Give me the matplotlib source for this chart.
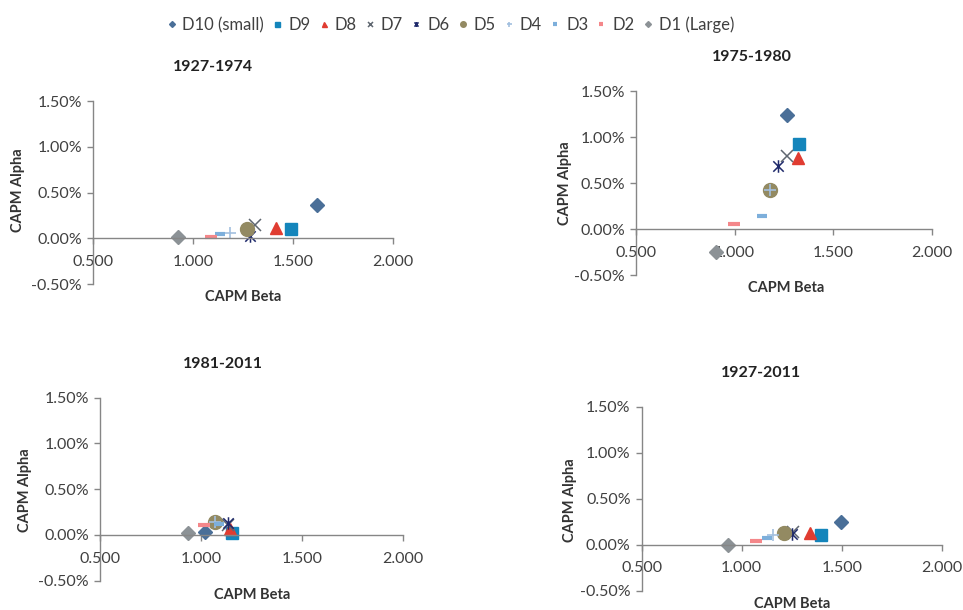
import matplotlib
matplotlib.use("Agg")
import matplotlib.pyplot as plt
from matplotlib.path import Path
from matplotlib.ticker import FuncFormatter

plt.rcParams['font.family'] = ['Lato', 'DejaVu Sans']

# deciles and periods
deciles = ['D10 (small)', 'D9', 'D8', 'D7', 'D6', 'D5', 'D4', 'D3', 'D2', 'D1 (Large)']
periods = ['1927-1974', '1975-1980', '1981-2011', '1927-2011']

# CAPM beta / alpha (alpha in %) per decile
beta_27_74 = [1.62, 1.49, 1.415, 1.31, 1.285, 1.27, 1.185, 1.135, 1.09, 0.927]
alpha_27_74 = [0.36, 0.10, 0.11, 0.14, 0.03, 0.10, 0.06, 0.05, 0.015, 0.01]

beta_75_80 = [1.265, 1.327, 1.324, 1.265, 1.22, 1.18, 1.18, 1.141, 0.999, 0.906]
alpha_75_80 = [1.24, 0.92, 0.77, 0.80, 0.69, 0.43, 0.43, 0.145, 0.06, -0.25]

beta_81_11 = [1.02, 1.155, 1.145, 1.135, 1.135, 1.07, 1.07, 1.09, 1.015, 0.935]
alpha_81_11 = [0.03, 0.02, 0.07, 0.11, 0.13, 0.14, 0.14, 0.12, 0.11, 0.02]

beta_27_11 = [1.497, 1.397, 1.34, 1.258, 1.25, 1.213, 1.158, 1.125, 1.07, 0.929]
alpha_27_11 = [0.25, 0.11, 0.13, 0.135, 0.12, 0.127, 0.11, 0.076, 0.044, 0.0]

betas = [beta_27_74, beta_75_80, beta_81_11, beta_27_11]
alphas = [alpha_27_74, alpha_75_80, alpha_81_11, alpha_27_11]

# excel-like star: an x with a vertical bar through it
star = Path([(-1, -1), (1, 1), (-1, 1), (1, -1), (0, -1.2), (0, 1.2)],
            [Path.MOVETO, Path.LINETO, Path.MOVETO, Path.LINETO, Path.MOVETO, Path.LINETO])

markers = ['D', 's', '^', 'x', star, 'o', '+', '_', '_', 'D']
colors = ['#4A6F98', '#1485BB', '#E03C31', '#5F6770', '#1F2A6B',
          '#938A62', '#A3C0DF', '#7DAFDB', '#F4878A', '#8C9296']
sizes = [7.5, 9, 9, 9, 9, 10, 9, 7, 8, 7.5]
edgew = [1, 1, 1, 1.1, 1.1, 1, 1.2, 3, 3, 1]

# axes rectangles [left, bottom, width, height] and title/label spots (pixels)
rects = [[0.0966, 0.5344, 0.3115, 0.300],
         [0.6604, 0.5487, 0.3070, 0.302],
         [0.1038, 0.0480, 0.3150, 0.300],
         [0.6664, 0.0316, 0.3115, 0.3016]]
title_xy = [(213, 67), (752, 57), (223, 364), (761, 373)]
xlab_xy = [(243, 297), (786, 288), (252, 595), (792, 604)]
ylab_xy = [(18, 190), (565, 183), (25, 490), (570, 500)]

W, H = 963, 610
fig = plt.figure(figsize=(9.63, 6.10), dpi=100)

axis_col = '#868686'
text_col = '#404040'

for k in range(4):
    ax = fig.add_axes(rects[k])
    for i in range(10):
        ax.plot(betas[k][i], alphas[k][i], linestyle='none', marker=markers[i],
                color=colors[i], markersize=sizes[i], markeredgewidth=edgew[i],
                label=deciles[i], clip_on=False)
    ax.set_xlim(0.5, 2.0)
    ax.set_ylim(-0.5, 1.5)
    ax.set_xticks([0.5, 1.0, 1.5, 2.0])
    ax.set_yticks([-0.5, 0.0, 0.5, 1.0, 1.5])
    ax.xaxis.set_major_formatter(FuncFormatter(lambda v, p: '%.3f' % v))
    ax.yaxis.set_major_formatter(FuncFormatter(lambda v, p: '%.2f%%' % v))
    ax.spines['top'].set_visible(False)
    ax.spines['right'].set_visible(False)
    ax.spines['bottom'].set_position(('data', 0))
    for s in ['left', 'bottom']:
        ax.spines[s].set_color(axis_col)
        ax.spines[s].set_linewidth(1.0)
    ax.tick_params(axis='x', direction='out', length=4, width=1, color=axis_col,
                   labelcolor=text_col, labelsize=11.5, pad=8)
    ax.tick_params(axis='y', direction='out', length=4, width=1, color=axis_col,
                   labelcolor=text_col, labelsize=11.5, pad=4)
    ax.patch.set_visible(False)

    fig.text(title_xy[k][0] / W, 1 - title_xy[k][1] / H, periods[k],
             ha='center', va='center', fontsize=11.5, fontweight='bold', color='#222222')
    fig.text(xlab_xy[k][0] / W, 1 - xlab_xy[k][1] / H, 'CAPM Beta',
             ha='center', va='center', fontsize=10.5, fontweight='bold', color='#333333')
    fig.text(ylab_xy[k][0] / W, 1 - ylab_xy[k][1] / H, 'CAPM Alpha', rotation=90,
             ha='center', va='center', fontsize=10.5, fontweight='bold', color='#333333')

    if k == 0:
        handles, labels = ax.get_legend_handles_labels()

fig.legend(handles, labels, loc='center', bbox_to_anchor=(0.468, 0.959), ncol=10,
           frameon=False, markerscale=0.4, handlelength=0.5, handletextpad=0.4,
           columnspacing=0.55, fontsize=12, labelcolor=text_col)

fig.savefig('out.png', dpi=100)
